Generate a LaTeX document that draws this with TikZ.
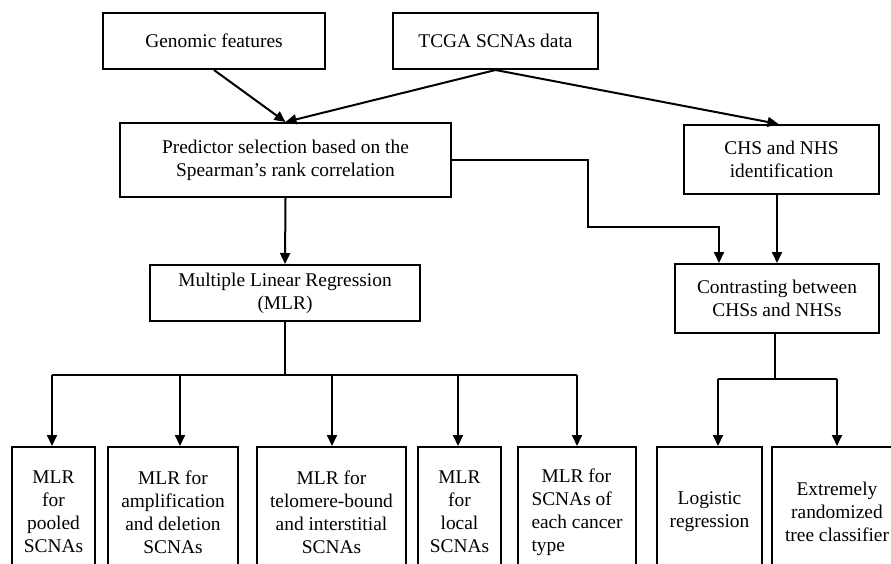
\documentclass[tikz,border=0pt]{standalone}
\usepackage{fontspec}
\setmainfont{Liberation Serif}
\usetikzlibrary{arrows.meta}
\tikzset{
    box/.style={draw, line width=2pt, inner sep=0pt, align=center,
        font=\fontsize{19.4}{23}\selectfont},
    arr/.style={-{Triangle[length=11pt,width=10pt]}, line width=2pt},
    lin/.style={line width=2pt}
}
\begin{document}
\begin{tikzpicture}[x=1pt,y=-1pt]
    \useasboundingbox (0,0) rectangle (891,564);
    \clip (0,0) rectangle (891,564);
    %riquadri in alto
    \node[box, minimum width=222pt, minimum height=56pt] (gen) at (214,41) {Genomic features};
    \node[box, minimum width=205pt, minimum height=56pt] (tcga) at (495.5,41) {TCGA SCNAs data};
    \node[box, minimum width=331pt, minimum height=74pt] (pred) at (285.5,160)
        {Predictor selection based on the\\Spearman's rank correlation};
    \node[box, minimum width=195pt, minimum height=69pt] (chs) at (781.5,159.5)
        {CHS and NHS\\identification};
    %riquadri in mezzo
    \node[box, minimum width=270pt, minimum height=56pt] (mlr) at (285,293)
        {Multiple Linear Regression\\(MLR)};
    \node[box, minimum width=204pt, minimum height=69pt] (con) at (777,298.5)
        {Contrasting between\\CHSs and NHSs};
    %riquadri in basso
    \node[box, minimum width=83pt, minimum height=130pt] (b1) at (53.5,512)
        {MLR\\for\\pooled\\SCNAs};
    \node[box, minimum width=130pt, minimum height=130pt] (b2) at (173,512)
        {MLR for\\amplification\\and deletion\\SCNAs};
    \node[box, minimum width=149pt, minimum height=130pt] (b3) at (331.5,512)
        {MLR for\\telomere-bound\\and interstitial\\SCNAs};
    \node[box, minimum width=83pt, minimum height=130pt] (b4) at (459.5,512)
        {MLR\\for\\local\\SCNAs};
    \node[box, minimum width=118pt, minimum height=130pt, align=left] (b5) at (577,512)
        {\hspace*{10pt}MLR for\\SCNAs of\\each cancer\\type};
    \node[box, minimum width=105pt, minimum height=130pt] (b6) at (709.5,512)
        {Logistic\\regression};
    \node[box, minimum width=130pt, minimum height=130pt] (b7) at (837,512)
        {Extremely\\randomized\\tree classifier};
    %frecce in alto
    \draw[arr] (gen.south) -- (pred.north);
    \draw[arr] (tcga.south) -- (pred.north);
    \draw[arr] (tcga.south) -- ([xshift=-3pt]chs.north);
    \coordinate (gomito) at (588,227);
    \draw[arr] (pred.east) -| (gomito) -| ([xshift=-58pt]con.north);
    \draw[arr] (chs.south -| con.north) -- (con.north);
    \draw[arr] (pred.south) -- (mlr.north);
    %diramazione MLR
    \coordinate (busl) at (52,375);
    \coordinate (busr) at (577,375);
    \draw[lin] (mlr.south) -- (mlr.south |- busl);
    \draw[lin] (busl) -- (busr);
    \foreach \b/\x in {b1/52, b2/180, b3/332, b4/458, b5/577}
        \draw[arr] (\x,375) -- (\x,375 |- \b.north);
    %diramazione classificatori
    \coordinate (cbusl) at (718,379);
    \coordinate (cbusr) at (837,379);
    \draw[lin] ([xshift=-2pt]con.south) -- ([xshift=-2pt]con.south |- cbusl);
    \draw[lin] (cbusl) -- (cbusr);
    \draw[arr] (cbusl) -- (cbusl |- b6.north);
    \draw[arr] (cbusr) -- (b7.north);
\end{tikzpicture}
\end{document}
